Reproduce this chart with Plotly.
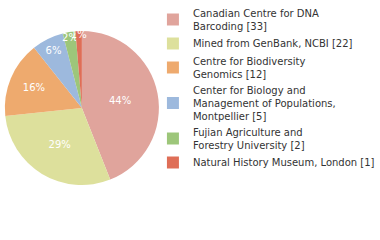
import plotly.graph_objects as go
import math

labels = ["Canadian Centre for DNA<br>Barcoding [33]",
          "Mined from GenBank, NCBI [22]",
          "Centre for Biodiversity<br>Genomics [12]",
          "Center for Biology and<br>Management of Populations,<br>Montpellier [5]",
          "Fujian Agriculture and<br>Forestry University [2]",
          "Natural History Museum, London [1]"]
values = [33, 22, 12, 5, 2, 1]
colors = ["#E0A49C", "#DDE09C", "#EEAA6E", "#9DB9DD", "#9DC67A", "#DF6E57"]

total = sum(values)
texts = [f"{math.floor(v * 100 / total)}%" for v in values]

fig = go.Figure(go.Pie(
    labels=labels, values=values, text=texts, textinfo="text",
    sort=False, direction="clockwise", rotation=0,
    marker=dict(colors=colors, line=dict(width=0)),
    textposition="inside", insidetextorientation="horizontal",
    textfont=dict(color="white", size=10, family="DejaVu Sans"),
    domain=dict(x=[0.013, 0.426], y=[0.225, 0.875]),
    hoverinfo="skip",
))
fig.update_layout(
    width=380, height=240,
    margin=dict(l=0, r=0, t=0, b=0),
    paper_bgcolor="white", plot_bgcolor="white",
    uniformtext=dict(minsize=10, mode="show"),
    legend=dict(x=0.41, y=1.0, xanchor="left", yanchor="top",
                font=dict(family="DejaVu Sans", size=10, color="#333333"),
                tracegroupgap=0, itemwidth=30, bgcolor="rgba(0,0,0,0)"),
    showlegend=True,
)
fig.write_html("out.html")
